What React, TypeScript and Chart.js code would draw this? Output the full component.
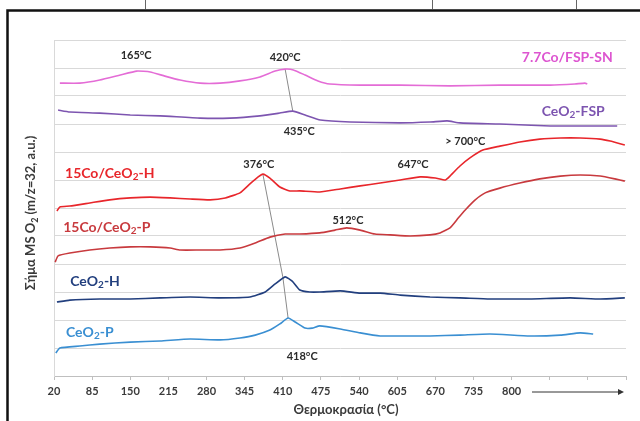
import React, { useEffect, useRef } from 'react';
import { Chart, registerables } from 'chart.js';

Chart.register(...registerables);

const FONT = 'Lato, "Open Sans", "DejaVu Sans", sans-serif';

// x axis (temperature) ticks
const X_TICKS = [20, 85, 150, 215, 280, 345, 410, 475, 540, 605, 670, 735, 800, 865, 930, 995];
const X_TICK_LABELS = ['20', '85', '150', '215', '280', '345', '410', '475', '540', '605', '670', '735', '800', '', '', ''];
const Y_GRID = [0, 1, 2, 3, 4, 5, 6, 7, 8, 9, 10, 11, 12];

// 7.7Co/FSP-SN
const T_SN = [30, 64, 98, 133, 161, 184, 209, 235, 269, 303, 337, 371, 397, 414, 428, 448, 470, 490, 542, 610, 695, 780, 866, 908, 925, 929];
const V_SN = [10.46, 10.46, 10.57, 10.75, 10.89, 10.86, 10.71, 10.57, 10.46, 10.46, 10.54, 10.68, 10.89, 10.96, 10.93, 10.75, 10.54, 10.43, 10.39, 10.39, 10.36, 10.39, 10.39, 10.43, 10.46, 10.43];

// CeO2-FSP
const T_FSP = [27, 47, 98, 150, 201, 269, 320, 371, 405, 427, 448, 474, 525, 610, 661, 690, 712, 780, 866, 934, 980];
const V_FSP = [9.5, 9.43, 9.39, 9.32, 9.29, 9.21, 9.21, 9.29, 9.39, 9.46, 9.32, 9.14, 9.07, 9.04, 9.07, 9.11, 9.04, 9.0, 8.93, 8.93, 8.93];

// 15Co/CeO2-H
const T_COH = [25, 30, 47, 81, 115, 150, 184, 218, 252, 286, 312, 337, 354, 368, 376, 388, 405, 422, 439, 473, 508, 542, 576, 610, 644, 670, 687, 695, 712, 729, 751, 780, 814, 848, 883, 917, 951, 968, 993];
const V_COH = [5.89, 6.04, 6.07, 6.18, 6.29, 6.36, 6.39, 6.36, 6.32, 6.29, 6.36, 6.54, 6.86, 7.11, 7.21, 7.07, 6.75, 6.61, 6.61, 6.57, 6.68, 6.79, 6.89, 7.0, 7.11, 7.07, 7.0, 7.14, 7.5, 7.79, 8.07, 8.21, 8.36, 8.46, 8.5, 8.5, 8.46, 8.39, 8.25];

// 15Co/CeO2-P
const T_COP = [22, 27, 47, 81, 115, 150, 184, 218, 235, 269, 303, 337, 363, 388, 414, 439, 473, 499, 519, 542, 567, 593, 627, 661, 678, 695, 709, 721, 738, 755, 780, 814, 848, 883, 917, 951, 976, 993];
const V_COP = [4.07, 4.29, 4.39, 4.5, 4.57, 4.61, 4.61, 4.57, 4.5, 4.5, 4.5, 4.57, 4.75, 4.96, 5.07, 5.07, 5.11, 5.21, 5.29, 5.21, 5.07, 5.04, 5.0, 5.04, 5.11, 5.29, 5.64, 5.93, 6.29, 6.54, 6.71, 6.89, 7.04, 7.14, 7.18, 7.14, 7.04, 6.96];

// CeO2-H
const T_CEH = [25, 47, 98, 150, 201, 252, 303, 354, 380, 397, 414, 426, 439, 456, 473, 508, 542, 576, 610, 661, 712, 763, 831, 900, 951, 993];
const V_CEH = [2.64, 2.71, 2.75, 2.75, 2.79, 2.82, 2.79, 2.82, 3.0, 3.29, 3.54, 3.39, 3.07, 3.0, 3.0, 3.04, 2.96, 2.96, 2.89, 2.82, 2.79, 2.75, 2.75, 2.79, 2.75, 2.79];

// CeO2-P
const T_CEP = [23, 30, 64, 98, 150, 201, 252, 303, 337, 363, 388, 405, 419, 431, 448, 460, 473, 508, 542, 576, 610, 661, 712, 763, 831, 883, 917, 939];
const V_CEP = [0.82, 1.0, 1.07, 1.14, 1.21, 1.25, 1.32, 1.29, 1.36, 1.46, 1.64, 1.86, 2.07, 1.93, 1.71, 1.71, 1.79, 1.68, 1.54, 1.43, 1.43, 1.43, 1.46, 1.5, 1.43, 1.46, 1.54, 1.5];

const SERIES_T = [T_SN, T_FSP, T_COH, T_COP, T_CEH, T_CEP];
const SERIES_V = [V_SN, V_FSP, V_COH, V_COP, V_CEH, V_CEP];
const SERIES_NAMES = ['7.7Co/FSP-SN', 'CeO₂-FSP', '15Co/CeO₂-H', '15Co/CeO₂-P', 'CeO₂-H', 'CeO₂-P'];
const SERIES_COLORS = ['#e46cd6', '#7d55b0', '#e8262b', '#c83a3e', '#223f7e', '#3a8fd2'];

// gray peak connector lines
const LINK_A_T = [414, 427];
const LINK_A_V = [10.96, 9.46];
const LINK_B_T = [376, 410, 419];
const LINK_B_V = [7.21, 3.54, 2.07];

// annotations
const ANN_TEXT = ['165°C', '420°C', '7.7Co/FSP-SN', 'CeO₂-FSP', '435°C', '15Co/CeO₂-H', '376°C', '647°C', '> 700°C', '15Co/CeO₂-P', '512°C', 'CeO₂-H', 'CeO₂-P', '418°C'];
const ANN_T = [160, 414, 895, 905, 438, 115, 369, 632, 721, 110, 521, 90, 81, 443];
const ANN_V = [11.46, 11.39, 11.39, 9.46, 8.75, 7.25, 7.54, 7.57, 8.39, 5.32, 5.57, 3.39, 1.57, 0.71];
const ANN_COLOR = ['#2b2b2b', '#2b2b2b', '#dd55d0', '#7d55b0', '#2b2b2b', '#e8262b', '#2b2b2b', '#2b2b2b', '#2b2b2b', '#c83a3e', '#2b2b2b', '#223f7e', '#3a8fd2', '#2b2b2b'];
const ANN_SIZE = [11, 11, 14, 14, 11, 14, 11, 11, 11, 14, 11, 14, 14, 11];

const Y_TITLE = 'Σήμα MS O₂ (m/z=32, a.u.)';
const X_TITLE = 'Θερμοκρασία (°C)';

function richWidth(ctx: CanvasRenderingContext2D, text: string, size: number) {
  let w = 0;
  for (const seg of text.split(/(₂)/)) {
    if (!seg) continue;
    if (seg === '₂') {
      ctx.font = `bold ${Math.round(size * 0.7)}px ${FONT}`;
      w += ctx.measureText('2').width;
    } else {
      ctx.font = `bold ${size}px ${FONT}`;
      w += ctx.measureText(seg).width;
    }
  }
  return w;
}

function drawRich(ctx: CanvasRenderingContext2D, text: string, cx: number, cy: number, size: number, color: string) {
  const w = richWidth(ctx, text, size);
  let x = cx - w / 2;
  ctx.fillStyle = color;
  ctx.textBaseline = 'middle';
  ctx.textAlign = 'left';
  for (const seg of text.split(/(₂)/)) {
    if (!seg) continue;
    if (seg === '₂') {
      ctx.font = `bold ${Math.round(size * 0.7)}px ${FONT}`;
      ctx.fillText('2', x, cy + size * 0.28);
      x += ctx.measureText('2').width;
    } else {
      ctx.font = `bold ${size}px ${FONT}`;
      ctx.fillText(seg, x, cy);
      x += ctx.measureText(seg).width;
    }
  }
}

const decorPlugin = {
  id: 'decor',
  afterDraw(chart: any) {
    const ctx: CanvasRenderingContext2D = chart.ctx;
    const xs = chart.scales.x;
    const ys = chart.scales.y;
    ctx.save();
    // annotations
    for (let i = 0; i < ANN_TEXT.length; i++) {
      drawRich(ctx, ANN_TEXT[i], xs.getPixelForValue(ANN_T[i]), ys.getPixelForValue(ANN_V[i]), ANN_SIZE[i], ANN_COLOR[i]);
    }
    // axis titles
    drawRich(ctx, X_TITLE, 346, 410, 13, '#3a3a3a');
    ctx.save();
    ctx.translate(31, 213);
    ctx.rotate(-Math.PI / 2);
    drawRich(ctx, Y_TITLE, 0, 0, 13, '#3a3a3a');
    ctx.restore();
    // arrow after last labelled tick
    const ax0 = 532, ax1 = 624, ay = 392;
    ctx.strokeStyle = '#333333';
    ctx.lineWidth = 1;
    ctx.beginPath();
    ctx.moveTo(ax0, ay);
    ctx.lineTo(ax1 - 4, ay);
    ctx.stroke();
    ctx.fillStyle = '#333333';
    ctx.beginPath();
    ctx.moveTo(ax1, ay);
    ctx.lineTo(ax1 - 6, ay - 3);
    ctx.lineTo(ax1 - 6, ay + 3);
    ctx.closePath();
    ctx.fill();
    // outer frame
    ctx.strokeStyle = '#111111';
    ctx.lineWidth = 2.5;
    ctx.beginPath();
    ctx.moveTo(7.5, 440);
    ctx.lineTo(7.5, 10.5);
    ctx.lineTo(660, 10.5);
    ctx.stroke();
    ctx.strokeStyle = '#666666';
    ctx.lineWidth = 1;
    for (const px of [145, 432, 576]) {
      ctx.beginPath();
      ctx.moveTo(px + 0.5, 0);
      ctx.lineTo(px + 0.5, 9);
      ctx.stroke();
    }
    ctx.restore();
  },
};

export default function App() {
  const ref = useRef<HTMLCanvasElement>(null);
  useEffect(() => {
    if (!ref.current) return;
    const datasets: any[] = SERIES_NAMES.map((name, i) => ({
      label: name,
      data: SERIES_T[i].map((t, j) => ({ x: t, y: SERIES_V[i][j] })),
      borderColor: SERIES_COLORS[i],
      backgroundColor: SERIES_COLORS[i],
      borderWidth: 1.6,
      pointRadius: 0,
      tension: 0.15,
    }));
    datasets.push({
      label: 'linkA',
      data: LINK_A_T.map((t, j) => ({ x: t, y: LINK_A_V[j] })),
      borderColor: '#8a8a8a',
      borderWidth: 1,
      pointRadius: 0,
      tension: 0,
    });
    datasets.push({
      label: 'linkB',
      data: LINK_B_T.map((t, j) => ({ x: t, y: LINK_B_V[j] })),
      borderColor: '#8a8a8a',
      borderWidth: 1,
      pointRadius: 0,
      tension: 0,
    });
    const chart = new Chart(ref.current, {
      type: 'line',
      data: { datasets },
      options: {
        animation: false,
        responsive: false,
        layout: { padding: { left: 54, right: 14, top: 40, bottom: 0 } },
        plugins: { legend: { display: false }, tooltip: { enabled: false } },
        scales: {
          x: {
            type: 'linear',
            min: 20,
            max: 995,
            afterBuildTicks: (s: any) => { s.ticks = X_TICKS.map((v) => ({ value: v })); },
            afterFit: (s: any) => { s.height = 45; },
            ticks: {
              autoSkip: false,
              maxRotation: 0,
              padding: 5,
              color: '#3a3a3a',
              font: { family: FONT, size: 11, weight: 'bold' },
              callback: (_v: any, idx: number) => X_TICK_LABELS[idx] ?? '',
            },
            grid: { drawOnChartArea: false, drawTicks: true, tickLength: 4, color: '#bfbfbf' },
            border: { display: true, color: '#bfbfbf', width: 1 },
          },
          y: {
            type: 'linear',
            min: 0,
            max: 12,
            afterBuildTicks: (s: any) => { s.ticks = Y_GRID.map((v) => ({ value: v })); },
            afterFit: (s: any) => { s.width = 0; },
            ticks: { display: false },
            grid: { color: '#d9d9d9', drawTicks: false, lineWidth: 1 },
            border: { display: true, color: '#d9d9d9' },
          },
        },
      },
      plugins: [decorPlugin],
    } as any);
    return () => chart.destroy();
  }, []);
  return (
    <div style={{ position: 'absolute', left: 0, top: 0, width: 640, height: 421, background: '#ffffff' }}>
      <canvas ref={ref} width={640} height={421} style={{ display: 'block' }} />
    </div>
  );
}
